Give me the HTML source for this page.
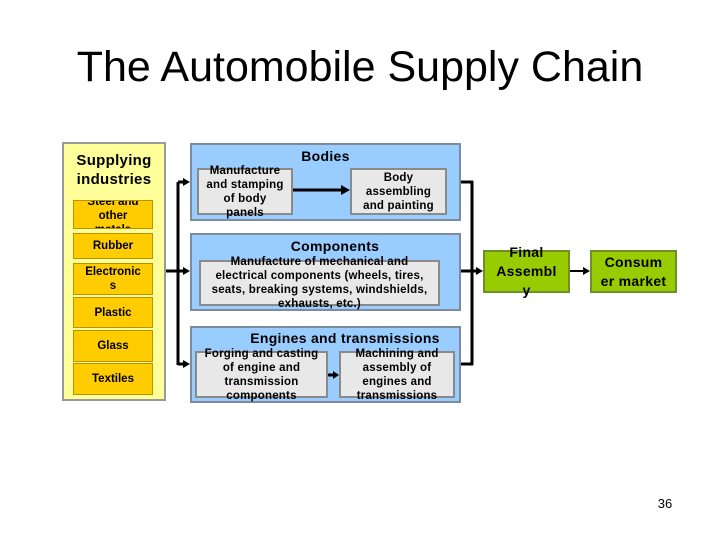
<!DOCTYPE html>
<html><head><style>
body{margin:0;background:#fff;font-family:"Liberation Sans",sans-serif;}
#c{position:relative;width:720px;height:540px;overflow:hidden;}
.a{position:absolute;box-sizing:border-box;display:flex;align-items:center;justify-content:center;text-align:center;font-weight:bold;white-space:nowrap;}
.y{background:#ffcc00;border:1px solid #b89200;font-size:11.5px;line-height:14px;}
.g{background:#e8e8e8;border:2px solid #8a8a8a;font-size:11.5px;line-height:14px;letter-spacing:0.2px;overflow:visible;}
.b{background:#99ccff;border:2px solid #7d8c9c;}
.gr{background:#99cc00;border:2px solid #6f8f2a;font-size:14px;line-height:19px;letter-spacing:0.3px;}
.t{position:absolute;font-weight:bold;text-align:center;letter-spacing:0.3px;}
</style></head><body><div id="c">
<div style="position:absolute;left:0;top:43px;width:720px;text-align:center;font-size:43px;">The Automobile Supply Chain</div>

<div class="a" style="left:62px;top:142px;width:104px;height:259px;background:#ffff99;border:2px solid #999;"></div>
<div class="t" style="left:62px;top:151px;width:104px;font-size:15px;line-height:19px;">Supplying<br>industries</div>
<div class="a y" style="left:73px;top:200px;width:80px;height:29px;overflow:hidden;align-items:flex-start;"><div style="margin-top:-6px">Steel and<br>other<br>metals</div></div>
<div class="a y" style="left:73px;top:233px;width:80px;height:26px;">Rubber</div>
<div class="a y" style="left:73px;top:263px;width:80px;height:32px;">Electronic<br>s</div>
<div class="a y" style="left:73px;top:297px;width:80px;height:31px;">Plastic</div>
<div class="a y" style="left:73px;top:330px;width:80px;height:32px;">Glass</div>
<div class="a y" style="left:73px;top:363px;width:80px;height:32px;">Textiles</div>

<div class="a b" style="left:190px;top:143px;width:271px;height:78px;"></div>
<div class="t" style="left:190px;top:148px;width:271px;font-size:14px;">Bodies</div>
<div class="a g" style="left:197px;top:168px;width:96px;height:47px;">Manufacture<br>and stamping<br>of body<br>panels</div>
<div class="a g" style="left:350px;top:168px;width:97px;height:47px;">Body<br>assembling<br>and painting</div>

<div class="a b" style="left:190px;top:233px;width:271px;height:78px;"></div>
<div class="t" style="left:190px;top:238px;width:290px;font-size:14px;">Components</div>
<div class="a g" style="left:199px;top:260px;width:241px;height:46px;line-height:14px;padding-top:0;">Manufacture of mechanical and<br>electrical components (wheels, tires,<br>seats, breaking systems, windshields,<br>exhausts, etc.)</div>

<div class="a b" style="left:190px;top:326px;width:271px;height:77px;"></div>
<div class="t" style="left:230px;top:330px;width:230px;font-size:14px;">Engines and transmissions</div>
<div class="a g" style="left:195px;top:351px;width:133px;height:47px;">Forging and casting<br>of engine and<br>transmission<br>components</div>
<div class="a g" style="left:339px;top:351px;width:116px;height:47px;">Machining and<br>assembly of<br>engines and<br>transmissions</div>

<div class="a gr" style="left:483px;top:250px;width:87px;height:43px;">Final<br>Assembl<br>y</div>
<div class="a gr" style="left:590px;top:250px;width:87px;height:43px;">Consum<br>er market</div>

<svg style="position:absolute;left:0;top:0" width="720" height="540">
<g stroke="#000" stroke-width="3" fill="none">
<line x1="166" y1="271" x2="186" y2="271"/>
<line x1="178" y1="182" x2="178" y2="365"/>
<line x1="178" y1="182" x2="186" y2="182"/>
<line x1="178" y1="364" x2="186" y2="364"/>
<line x1="293" y1="190" x2="342" y2="190"/>
<line x1="328" y1="375" x2="335" y2="375"/>
<line x1="461" y1="182" x2="473" y2="182"/>
<line x1="461" y1="271" x2="479" y2="271"/>
<line x1="461" y1="364" x2="473" y2="364"/>
<line x1="472" y1="181" x2="472" y2="365"/>
</g>
<line x1="570" y1="271" x2="585" y2="271" stroke="#000" stroke-width="2"/>
<g fill="#000">
<polygon points="190,182 183,178 183,186"/>
<polygon points="190,271 183,267 183,275"/>
<polygon points="190,364 183,360 183,368"/>
<polygon points="350,190 341,185 341,195"/>
<polygon points="339,375 333,371 333,379"/>
<polygon points="483,271 476,267 476,275"/>
<polygon points="590,271 583,267 583,275"/>
</g>
</svg>
<div style="position:absolute;left:650px;top:496px;width:30px;text-align:center;font-size:13px;">36</div>
</div></body></html>
